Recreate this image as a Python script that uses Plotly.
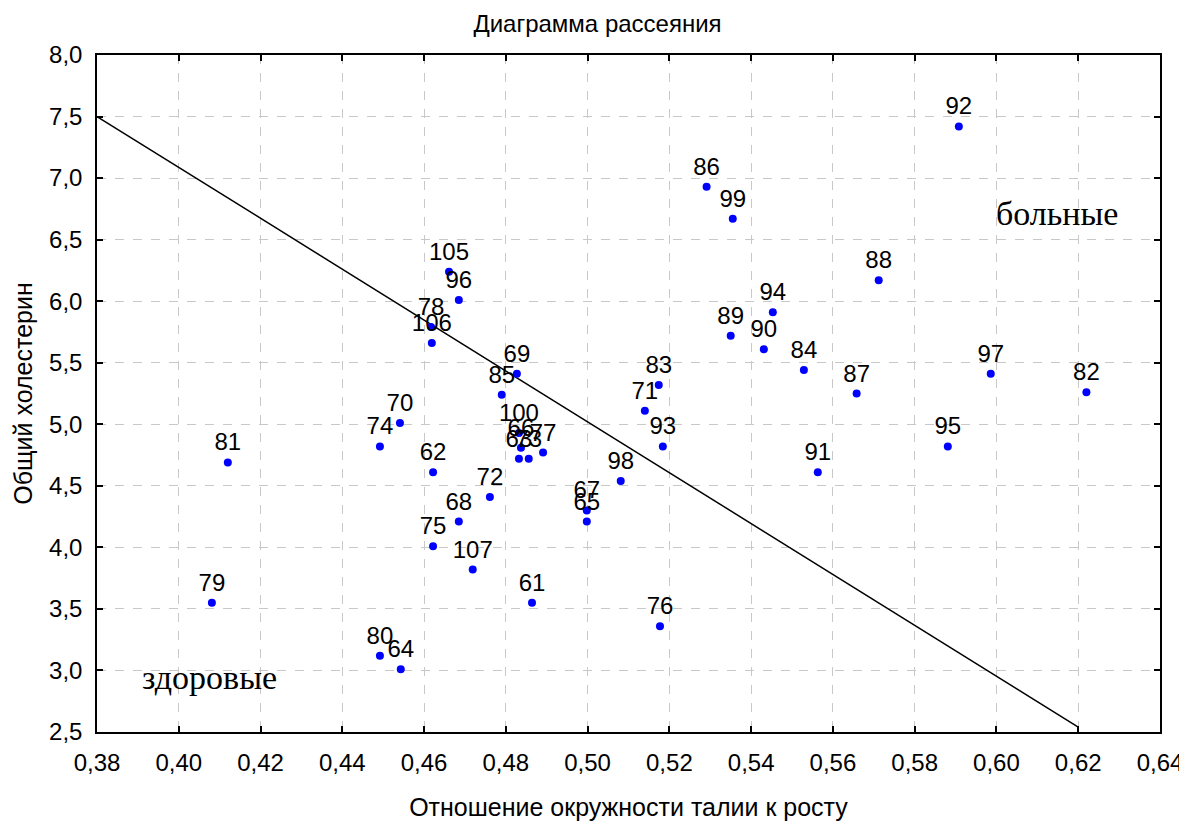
import plotly.graph_objects as go

ids = [61, 62, 63, 64, 65, 66, 67, 68, 69, 70, 71, 72, 73, 74, 75, 76, 77, 78, 79, 80,
       81, 82, 83, 84, 85, 86, 87, 88, 89, 90, 91, 92, 93, 94, 95, 96, 97, 98, 99, 100,
       105, 106, 107]
ratio = [0.4864, 0.4622, 0.4832, 0.4543, 0.4998, 0.4837, 0.4998, 0.4685, 0.4827, 0.4541,
         0.5140, 0.4761, 0.4856, 0.4492, 0.4622, 0.5177, 0.4891, 0.4617, 0.4081, 0.4492,
         0.4120, 0.6220, 0.5174, 0.5529, 0.4790, 0.5291, 0.5658, 0.5712, 0.5350, 0.5431,
         0.5563, 0.5908, 0.5184, 0.5453, 0.5881, 0.4685, 0.5986, 0.5081, 0.5355, 0.4832,
         0.4661, 0.4619, 0.4719]
chol = [3.55, 4.61, 4.72, 3.01, 4.21, 4.81, 4.30, 4.21, 5.41, 5.01,
        5.11, 4.41, 4.72, 4.82, 4.01, 3.36, 4.77, 5.79, 3.55, 3.12,
        4.69, 5.26, 5.32, 5.44, 5.24, 6.93, 5.25, 6.17, 5.72, 5.61,
        4.61, 7.42, 4.82, 5.91, 4.82, 6.01, 5.41, 4.54, 6.67, 4.93,
        6.24, 5.66, 3.82]

line_x = [0.38, 0.62]
line_y = [7.50, 2.54]

x_ticks = [0.38 + 0.02 * i for i in range(14)]
y_ticks = [2.5 + 0.5 * i for i in range(12)]

fig = go.Figure()
fig.add_trace(go.Scatter(x=line_x, y=line_y, mode="lines",
                         line=dict(color="black", width=1.5), hoverinfo="skip",
                         showlegend=False))
fig.add_trace(go.Scatter(x=ratio, y=chol, mode="markers+text",
                         text=[str(i) for i in ids], textposition="top center",
                         textfont=dict(family="Liberation Sans", size=24, color="black"),
                         marker=dict(color="#0000FF", size=8),
                         showlegend=False, cliponaxis=False))

fig.add_annotation(x=0.6147, y=6.715, xref="x", yref="y", text="больные", showarrow=False,
                   font=dict(family="Liberation Serif", size=34, color="black"))
fig.add_annotation(x=0.4076, y=2.943, xref="x", yref="y", text="здоровые", showarrow=False,
                   font=dict(family="Liberation Serif", size=34, color="black"))

axis_common = dict(
    showline=True, linecolor="black", linewidth=1.5, mirror="allticks",
    ticks="inside", ticklen=6, tickcolor="black", tickwidth=1.5,
    showgrid=True, gridcolor="#c8c8c8", griddash="dash", gridwidth=1,
    zeroline=False, automargin=False, ticklabeloverflow="allow",
    tickfont=dict(family="Liberation Sans", size=24, color="black"),
)

fig.update_layout(
    width=1179, height=813,
    paper_bgcolor="white", plot_bgcolor="white",
    margin=dict(l=89, r=27, t=47, b=89),
    separators=", ",
    font=dict(family="Liberation Sans", color="black"),
    title=dict(text="Диаграмма рассеяния", x=0.5, xanchor="center", y=0.981, yanchor="middle",
               font=dict(family="Liberation Sans", size=24, color="black")),
    xaxis=dict(range=[0.38, 0.64], tickvals=x_ticks, tickformat=".2f",
               title=dict(text="Отношение окружности талии к росту", standoff=34,
                          font=dict(family="Liberation Sans", size=25, color="black")),
               ticklabelstandoff=8, **axis_common),
    yaxis=dict(range=[2.5, 8.0], tickvals=y_ticks, tickformat=".1f",
               title=dict(text="Общий холестерин", standoff=9,
                          font=dict(family="Liberation Sans", size=25, color="black")),
               ticklabelstandoff=8, **axis_common),
)

fig.write_html("out.html")
